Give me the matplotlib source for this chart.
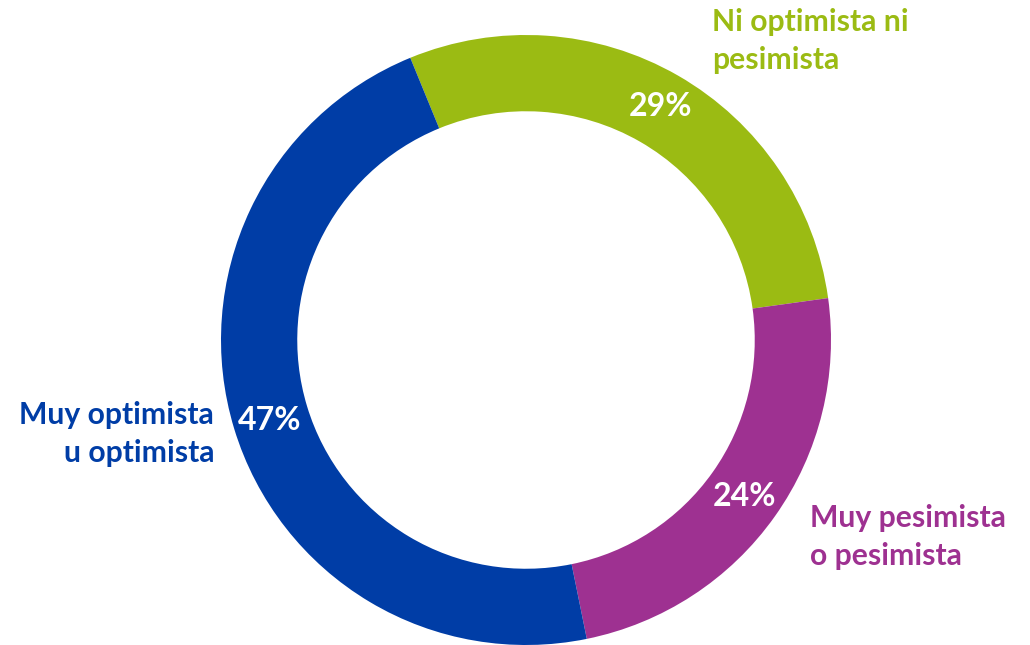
import matplotlib
matplotlib.use("Agg")
import matplotlib.pyplot as plt

categories = ["Ni optimista ni\npesimista", "Muy pesimista\no pesimista", "Muy optimista\nu optimista"]
values = [29, 24, 47]
pct_labels = ["29%", "24%", "47%"]
colors = ["#9BBB13", "#9E3191", "#003DA6"]

W, H = 1030, 645
fig = plt.figure(figsize=(W / 100, H / 100), dpi=100)
ax = fig.add_axes([0, 0, 1, 1])

cx, cy = 526, H - 340
R = 305
wedges, _ = ax.pie(values, colors=colors, startangle=112.3, counterclock=False,
                   radius=R, center=(cx, cy), frame=True,
                   wedgeprops=dict(width=R * 0.25, linewidth=0))
ax.set_xlim(0, W)
ax.set_ylim(0, H)
ax.set_aspect("equal")
ax.axis("off")

font = "Lato"
fs = 21.7
# percentages
pct_pos = [(660, 107), (744, 496), (270, 420)]
for (x, y), t in zip(pct_pos, pct_labels):
    ax.text(x, H - y, t, color="white", fontsize=23, fontweight="bold",
            family=font, ha="center", va="center")

# category labels
ax.text(712, H - 41, categories[0], color=colors[0], fontsize=fs, fontweight="bold",
        family=font, ha="left", va="center", linespacing=1.4)
ax.text(810, H - 537, categories[1], color=colors[1], fontsize=fs, fontweight="bold",
        family=font, ha="left", va="center", linespacing=1.4)
ax.text(214, H - 434, categories[2], color=colors[2], fontsize=fs, fontweight="bold",
        family=font, ha="right", va="center", linespacing=1.4, multialignment="right")

fig.savefig("out.png", dpi=100)
